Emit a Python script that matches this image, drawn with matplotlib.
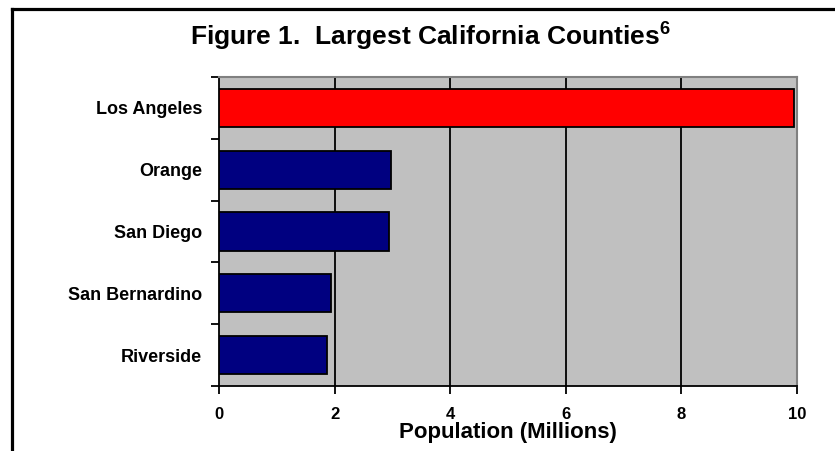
import matplotlib
matplotlib.use('Agg')
import matplotlib.pyplot as plt
from matplotlib.lines import Line2D
import numpy as np

plt.rcParams['font.family'] = ['Liberation Sans', 'DejaVu Sans']
plt.rcParams['font.weight'] = 'bold'
plt.rcParams['mathtext.fontset'] = 'custom'
plt.rcParams['mathtext.bf'] = 'Liberation Sans:bold'
plt.rcParams['mathtext.rm'] = 'Liberation Sans:bold'
plt.rcParams['mathtext.default'] = 'bf'

# county populations, millions
counties = ['Los Angeles', 'Orange', 'San Diego', 'San Bernardino', 'Riverside']
population = [9.95, 2.97, 2.94, 1.94, 1.87]
bar_colors = ['#FF0000', '#000080', '#000080', '#000080', '#000080']
xticks = [0, 2, 4, 6, 8, 10]

fig = plt.figure(figsize=(8.35, 4.51), dpi=100)
ax = fig.add_axes([0.2623, 0.1441, 0.6922, 0.6851])
ax.set_facecolor('#C0C0C0')

ypos = np.arange(len(counties))
ax.barh(ypos, population, height=0.62, color=bar_colors, edgecolor='black',
        linewidth=1.3, zorder=3)

ax.set_xlim(0, 10)
ax.set_ylim(len(counties) - 0.5, -0.5)

# vertical gridlines at the inner x ticks
for x in xticks[1:-1]:
    ax.axvline(x, color='black', lw=1.3, zorder=1)

ax.set_xticks(xticks)
ax.set_xticklabels([str(v) for v in xticks], fontsize=12, fontweight='bold')
ax.tick_params(axis='x', direction='out', length=6, width=1.3, colors='black', pad=9)

# category borders get tick marks, names sit between them
ax.set_yticks(np.arange(-0.5, len(counties), 1.0))
ax.set_yticklabels([])
ax.set_yticks(ypos, minor=True)
ax.set_yticklabels(counties, minor=True, fontsize=13, fontweight='bold')
ax.tick_params(axis='y', which='major', direction='out', length=6, width=1.3)
ax.tick_params(axis='y', which='minor', length=0, pad=12)

for side in ['left', 'bottom']:
    ax.spines[side].set_color('black')
    ax.spines[side].set_linewidth(1.3)
for side in ['top', 'right']:
    ax.spines[side].set_color('#808080')
    ax.spines[side].set_linewidth(1.5)

ax.set_xlabel('Population (Millions)', fontsize=16, fontweight='bold')
ax.xaxis.label.set_va('baseline')
ax.xaxis.set_label_coords(0.5, -0.168)

fig.text(0.515, 0.898, 'Figure 1.  Largest California Counties$^6$',
         ha='center', va='baseline', fontsize=19, fontweight='bold')

# outer frame, left and top edges
fig.add_artist(Line2D([11.5 / 835, 11.5 / 835], [0, 1 - 8.5 / 451],
                      color='black', lw=2.3, transform=fig.transFigure))
fig.add_artist(Line2D([11.5 / 835, 1], [1 - 8.5 / 451, 1 - 8.5 / 451],
                      color='black', lw=2.3, transform=fig.transFigure))

fig.savefig('out.png', dpi=100)
